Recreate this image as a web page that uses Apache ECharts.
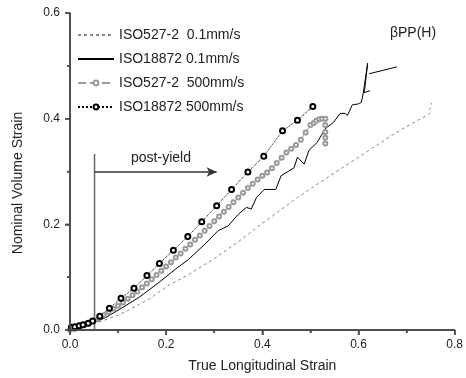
<!DOCTYPE html>
<html>
<head>
<meta charset="utf-8">
<script src="https://cdn.jsdelivr.net/npm/echarts@6/dist/echarts.min.js"></script>
<style>
  html, body { margin: 0; padding: 0; background: #fff; }
  #chart { width: 466px; height: 378px; }
</style>
</head>
<body>
<div id="chart"></div>
<script>
const seriesNames = ['ISO527-2  0.1mm/s', 'ISO18872 0.1mm/s', 'ISO527-2  500mm/s', 'ISO18872 500mm/s'];

// [true longitudinal strain, nominal volume strain]
const iso527Slow = [
  [0, 0], [0.02, 0.003], [0.048, 0.011], [0.082, 0.022], [0.117, 0.035], [0.165, 0.059],
  [0.206, 0.085], [0.247, 0.105], [0.3, 0.135], [0.35, 0.167], [0.4, 0.202], [0.432, 0.223],
  [0.473, 0.251], [0.541, 0.292], [0.61, 0.333], [0.679, 0.374], [0.733, 0.402],
  [0.746, 0.408], [0.75, 0.412], [0.748, 0.418], [0.752, 0.424], [0.751, 0.43]
];
const iso18872Slow = [
  [0, 0], [0.007, 0.003], [0.041, 0.01], [0.075, 0.024], [0.11, 0.043], [0.144, 0.062],
  [0.185, 0.09], [0.219, 0.115], [0.247, 0.134], [0.281, 0.163], [0.308, 0.188],
  [0.329, 0.197], [0.35, 0.219], [0.367, 0.232], [0.377, 0.229], [0.388, 0.251],
  [0.404, 0.266], [0.428, 0.266], [0.439, 0.292], [0.466, 0.307], [0.473, 0.327],
  [0.487, 0.314], [0.497, 0.34], [0.514, 0.355], [0.531, 0.381], [0.548, 0.393],
  [0.562, 0.41], [0.572, 0.41], [0.577, 0.406], [0.587, 0.426], [0.6, 0.428],
  [0.606, 0.431], [0.61, 0.449], [0.619, 0.505], [0.613, 0.456], [0.611, 0.449], [0.624, 0.453]
];
const iso527Fast = [
  [0, 0], [0.01, 0.002], [0.02, 0.005], [0.03, 0.009], [0.04, 0.013], [0.05, 0.018],
  [0.06, 0.023], [0.07, 0.028], [0.08, 0.034], [0.09, 0.04], [0.1, 0.046], [0.11, 0.052],
  [0.12, 0.059], [0.13, 0.066], [0.14, 0.073], [0.15, 0.081], [0.16, 0.088], [0.17, 0.096],
  [0.18, 0.104], [0.19, 0.112], [0.2, 0.12], [0.21, 0.128], [0.22, 0.137], [0.23, 0.145],
  [0.24, 0.154], [0.25, 0.162], [0.26, 0.171], [0.27, 0.179], [0.28, 0.188], [0.29, 0.197],
  [0.3, 0.206], [0.31, 0.215], [0.32, 0.224], [0.33, 0.233], [0.34, 0.242], [0.35, 0.251],
  [0.36, 0.26], [0.37, 0.269], [0.38, 0.277], [0.39, 0.285], [0.4, 0.292], [0.41, 0.298],
  [0.42, 0.306], [0.43, 0.316], [0.44, 0.326], [0.45, 0.336], [0.46, 0.343], [0.47, 0.35],
  [0.48, 0.36], [0.49, 0.374], [0.5, 0.388], [0.507, 0.392], [0.512, 0.396], [0.518, 0.399],
  [0.524, 0.4], [0.531, 0.4], [0.531, 0.388], [0.531, 0.375], [0.531, 0.364], [0.531, 0.353]
];
const iso18872Fast = [
  [0.003, 0.005], [0.01, 0.006], [0.019, 0.008], [0.027, 0.01], [0.038, 0.013], [0.047, 0.017],
  [0.062, 0.026], [0.082, 0.041], [0.106, 0.06], [0.133, 0.079], [0.16, 0.103], [0.186, 0.126],
  [0.215, 0.151], [0.245, 0.177], [0.274, 0.205], [0.305, 0.235], [0.336, 0.266], [0.37, 0.299],
  [0.403, 0.329], [0.442, 0.377], [0.473, 0.397], [0.505, 0.423]
];

// annotations
const yieldLine = [[0.051, 0], [0.051, 0.333]];
const yieldArrow = [[0.051, 0.299], [0.305, 0.299]];
const labelPointer = [[0.622, 0.485], [0.68, 0.498]];

// axis ticks
const xMajor = [0, 0.2, 0.4, 0.6, 0.8];
const xMinor = [0.1, 0.3, 0.5, 0.7];
const yMajor = [0, 0.2, 0.4, 0.6];
const yMinor = [0.1, 0.3, 0.5];

const font = "'Liberation Sans', Arial, sans-serif";
const ink = '#222';
const axisColor = '#444';

const chart = echarts.init(document.getElementById('chart'));

function makeAxis(extra) {
  return Object.assign({
    type: 'value',
    z: 10,
    axisLine: { show: true, onZero: false, lineStyle: { color: axisColor, width: 1.5 } },
    axisTick: { show: true, inside: false, length: 5, lineStyle: { color: axisColor, width: 1.5 } },
    minorTick: { show: true, splitNumber: 2, length: 3, lineStyle: { color: axisColor, width: 1.5 } },
    splitLine: { show: false },
    minorSplitLine: { show: false }
  }, extra);
}

// axis frame drawn as plain series too, so it shows even if the axis line drops out
function frameLine(data) {
  return { type: 'line', data: data, symbol: 'none', silent: true, clip: false, z: 5,
    lineStyle: { color: axisColor, width: 1.5 } };
}
function tickMarks(vals, onX, len) {
  return {
    type: 'scatter', silent: true, clip: false, z: 5,
    data: vals.map(v => onX ? [v, 0] : [0, v]),
    symbol: 'rect',
    symbolSize: onX ? [1.5, len] : [len, 1.5],
    symbolOffset: onX ? [0, len / 2] : [-len / 2, 0],
    itemStyle: { color: axisColor }
  };
}

chart.setOption({
  animation: false,
  backgroundColor: '#fff',
  grid: { left: 70, right: 7, top: 13, bottom: 47 },
  xAxis: makeAxis({
    min: xMajor[0], max: xMajor[xMajor.length - 1], interval: 0.2,
    name: 'True Longitudinal Strain', nameLocation: 'middle', nameGap: 29,
    nameTextStyle: { color: ink, fontSize: 14, fontFamily: font },
    axisLabel: { color: ink, fontSize: 12, fontFamily: font, margin: 9, formatter: v => v.toFixed(1) }
  }),
  yAxis: makeAxis({
    min: yMajor[0], max: yMajor[yMajor.length - 1], interval: 0.2,
    axisLabel: { color: ink, fontSize: 12, fontFamily: font, margin: 10, formatter: v => v.toFixed(1) }
  }),
  legend: {
    data: [
      { name: seriesNames[0], itemStyle: { opacity: 0 } },
      { name: seriesNames[1], itemStyle: { opacity: 0 } },
      { name: seriesNames[2] },
      { name: seriesNames[3] }
    ],
    orient: 'vertical',
    left: 72, top: 23,
    itemWidth: 36, itemHeight: 6, itemGap: 10, itemTextGap: 4,
    textStyle: { color: ink, fontSize: 14, fontFamily: font }
  },
  graphic: [
    { type: 'text', x: 18, y: 183, rotation: Math.PI / 2,
      style: { text: 'Nominal Volume Strain', fill: ink, font: '14px ' + font, align: 'center', verticalAlign: 'middle' } },
    { type: 'text', x: 161, y: 158,
      style: { text: 'post-yield', fill: ink, font: '14px ' + font, align: 'center', verticalAlign: 'middle' } },
    { type: 'text', x: 413, y: 33,
      style: { text: 'βPP(H)', fill: ink, font: '14px ' + font, align: 'center', verticalAlign: 'middle' } }
  ],
  series: [
    {
      name: seriesNames[0], type: 'line', data: iso527Slow, showSymbol: false,
      lineStyle: { color: '#888', width: 1, type: [3, 3] }, itemStyle: { color: '#888' }
    },
    {
      name: seriesNames[1], type: 'line', data: iso18872Slow, showSymbol: false,
      lineStyle: { color: '#000', width: 1 }, itemStyle: { color: '#000' }
    },
    {
      name: seriesNames[2], type: 'line', data: iso527Fast, symbol: 'emptyCircle', symbolSize: 4,
      lineStyle: { color: '#999', width: 1, type: [8, 4] },
      itemStyle: { color: '#999', borderWidth: 1 }
    },
    {
      name: seriesNames[3], type: 'line', data: iso18872Fast, symbol: 'emptyCircle', symbolSize: 5,
      lineStyle: { color: '#000', width: 1, type: 'dotted' },
      itemStyle: { color: '#000', borderWidth: 1 }
    },
    {
      type: 'line', data: yieldLine, symbol: 'none', silent: true,
      lineStyle: { color: '#666', width: 1.5 },
      markLine: {
        silent: true, symbol: ['none', 'arrow'], symbolSize: [7, 10], label: { show: false },
        lineStyle: { color: '#333', width: 1.5, type: 'solid' },
        data: [[{ coord: yieldArrow[0] }, { coord: yieldArrow[1] }]]
      }
    },
    {
      type: 'line', data: labelPointer, symbol: 'none', silent: true,
      lineStyle: { color: '#000', width: 1 }
    },
    frameLine([[xMajor[0], 0], [xMajor[xMajor.length - 1], 0]]),
    frameLine([[0, yMajor[0]], [0, yMajor[yMajor.length - 1]]]),
    tickMarks(xMajor, true, 5),
    tickMarks(xMinor, true, 3),
    tickMarks(yMajor, false, 5),
    tickMarks(yMinor, false, 3)
  ]
});
</script>
</body>
</html>
